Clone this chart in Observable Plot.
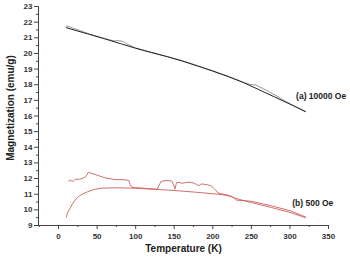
<!DOCTYPE html>
<html><head><meta charset="utf-8">
<script src="https://cdn.jsdelivr.net/npm/d3@7"></script>
<script src="https://cdn.jsdelivr.net/npm/@observablehq/plot@0.6"></script>
<style>body{margin:0;background:#fff}</style>
</head><body><div id="chart"></div>
<script>
// (a) 10000 Oe, two nearly-overlapping curves
const tA1 = [10,20,40,60,80,100,120,140,160,180,200,220,240,260,280,300,320];
const mA1 = [21.65,21.5,21.22,20.93,20.63,20.33,20.06,19.8,19.52,19.2,18.87,18.52,18.13,17.68,17.22,16.76,16.28];
const tA2 = [10,14,18,24,40,60,72,78,84,90,100,120,140,160,180,200,220,240,248,256,264,272,282,300,320];
const mA2 = [21.75,21.72,21.62,21.53,21.24,20.95,20.8,20.82,20.76,20.57,20.35,20.08,19.82,19.54,19.22,18.89,18.54,18.15,18.02,17.98,17.78,17.58,17.3,16.78,16.3];
// (b) 500 Oe, lower and upper curves
const tB1 = [10,12,15,18,21,25,29,33,38,42,48,55,65,80,100,120,140,160,180,200,207,215,222,228,235,250,275,300,320];
const mB1 = [9.53,9.85,10.1,10.38,10.6,10.81,10.95,11.06,11.16,11.24,11.32,11.38,11.4,11.41,11.38,11.33,11.27,11.2,11.12,11.03,11.0,10.94,10.88,10.76,10.66,10.47,10.16,9.84,9.5];
const tB2 = [13,15,17,19,22,26,29,33,35,38.5,42,51,60,73,86,91,93,95,100,110,120,128,130,133,138,143,147,149,151,153,156,160,165,169,173,176,179,182,185,189,193,197,200,203,207,212,218,222,226,231,250,275,300,320];
const mB2 = [11.83,11.9,11.85,11.82,11.96,11.95,11.98,12.05,12.1,12.4,12.35,12.2,12.05,11.94,11.92,11.88,11.6,11.45,11.42,11.38,11.34,11.32,11.55,11.82,11.86,11.87,11.83,11.6,11.34,11.75,11.76,11.7,11.74,11.77,11.74,11.7,11.62,11.55,11.66,11.63,11.6,11.55,11.45,11.3,11.07,11.02,10.96,10.9,10.82,10.62,10.55,10.27,9.95,9.55];
const xTicks = [0,50,100,150,200,250,300,350];
const xMinor = [-25,25,75,125,175,225,275,325];
const yTicks = d3.range(9,24,1);
const yMinor = d3.range(9.5,23,1);
const labels = [{t:308, m:17.25, s:"(a) 10000 Oe"},{t:303, m:10.4, s:"(b) 500 Oe"}];
const xTitle = "Temperature (K)";
const yTitle = "Magnetization (emu/g)";

const zip = (t,m) => t.map((v,i)=>({t:v, m:m[i]}));
const axisColor = "#444";
const chart = Plot.plot({
  width: 350, height: 259,
  marginLeft: 38, marginRight: 22, marginTop: 6, marginBottom: 34,
  style: {fontFamily: "Liberation Sans, Arial, sans-serif", fontSize: "8px", fontWeight: "bold", color: "#333", background: "#fff"},
  x: {domain: [-26, 350]},
  y: {domain: [9, 23]},
  marks: [
    Plot.axisY({ticks: yTicks, tickSize: 4, tickPadding: 2, stroke: axisColor, label: null, fontSize: 8}),
    Plot.axisY({ticks: yMinor, tickSize: 2, text: null, label: null, stroke: axisColor}),
    Plot.axisX({ticks: xTicks, tickSize: 4, tickPadding: 4, stroke: axisColor, label: null, fontSize: 8}),
    Plot.axisX({ticks: xMinor, tickSize: 2, text: null, label: null, stroke: axisColor}),
    Plot.text([yTitle], {frameAnchor: "left", textAnchor: "middle", dx: -28, dy: -8, rotate: -90, fontSize: 10, fontWeight: "bold", fill: "#222"}),
    Plot.text([xTitle], {frameAnchor: "bottom", dy: 26, fontSize: 10, fontWeight: "bold", fill: "#222"}),
    Plot.ruleX([-26], {stroke: axisColor}),
    Plot.ruleY([9], {stroke: axisColor}),
    Plot.line(zip(tA2, mA2), {x: "t", y: "m", stroke: "#9a9a9a", strokeWidth: 1}),
    Plot.line(zip(tA1, mA1), {x: "t", y: "m", stroke: "#222", strokeWidth: 1}),
    Plot.line(zip(tB1, mB1), {x: "t", y: "m", stroke: "#c8605c", strokeWidth: 0.9}),
    Plot.line(zip(tB2, mB2), {x: "t", y: "m", stroke: "#c8605c", strokeWidth: 0.9}),
    Plot.text(labels, {x: "t", y: "m", text: "s", textAnchor: "start", fontSize: 8.5, fontWeight: "bold", fill: "#222"})
  ]
});
document.getElementById("chart").appendChild(chart);
</script>
</body></html>
